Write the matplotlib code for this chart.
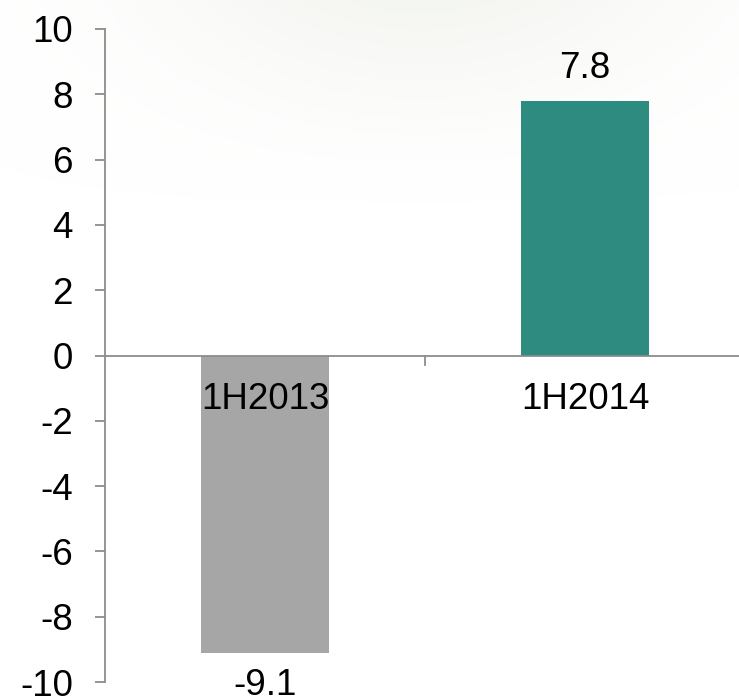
import matplotlib
matplotlib.use("Agg")
import matplotlib.pyplot as plt
import numpy as np

categories = ["1H2013", "1H2014"]
values = [-9.1, 7.8]
colors = ["#a6a6a6", "#2e8b7f"]
yticks = [-10, -8, -6, -4, -2, 0, 2, 4, 6, 8, 10]

plt.rcParams["font.family"] = ["Liberation Sans", "DejaVu Sans"]
FS = 26.5

fig = plt.figure(figsize=(7.39, 7.0), dpi=100)

# soft pale wash across the top of the slide background
bg = fig.add_axes([0, 0, 1, 1], zorder=0)
bg.set_axis_off()
h, w = 700, 739
yy, xx = np.mgrid[0:h, 0:w]
fade = np.clip(1 - yy / 210.0, 0, 1) ** 1.5
band = np.exp(-((xx - 420) / 260.0) ** 2)
alpha = 0.55 * fade * band
wash = np.zeros((h, w, 4))
wash[..., 0] = 0xEC / 255
wash[..., 1] = 0xEF / 255
wash[..., 2] = 0xE6 / 255
wash[..., 3] = alpha
bg.imshow(wash, extent=[0, 1, 0, 1], aspect="auto", origin="upper")
bg.set_xlim(0, 1)
bg.set_ylim(0, 1)

ax = fig.add_axes([105 / 739, (700 - 682) / 700, 634 / 739, (682 - 29) / 700], zorder=1)
ax.patch.set_alpha(0)

x = list(range(len(categories)))
ax.bar(x, values, width=0.4, color=colors, zorder=2)

ax.set_ylim(-10, 10)
ax.set_xlim(-0.5, -0.5 + 634 / 320)
ax.set_yticks(yticks)
ax.set_yticklabels([str(t) for t in yticks], fontsize=FS)

axis_color = "#8c8c8c"
for side in ["top", "right", "bottom"]:
    ax.spines[side].set_visible(False)
ax.spines["left"].set_color(axis_color)
ax.spines["left"].set_linewidth(1.3)
ax.axhline(0, color=axis_color, linewidth=1.3, zorder=3)
ax.tick_params(axis="y", length=7.2, width=1.3, color=axis_color, pad=16)

# category boundary tick hanging from the zero line
ax.set_xticks([])
ax.plot([0.5, 0.5], [0, -0.3], color=axis_color, linewidth=1.3, zorder=3, clip_on=False)

# category names just below the zero line
for xi, name in zip(x, categories):
    ax.text(xi, -1.35, name, ha="center", va="center", fontsize=FS, zorder=4)

# value labels
for xi, v in zip(x, values):
    off = 1.0 if v >= 0 else -1.0
    ax.text(xi, v + off, f"{v:.1f}", ha="center", va="center", fontsize=FS, clip_on=False)

fig.savefig("out.png", dpi=100)
